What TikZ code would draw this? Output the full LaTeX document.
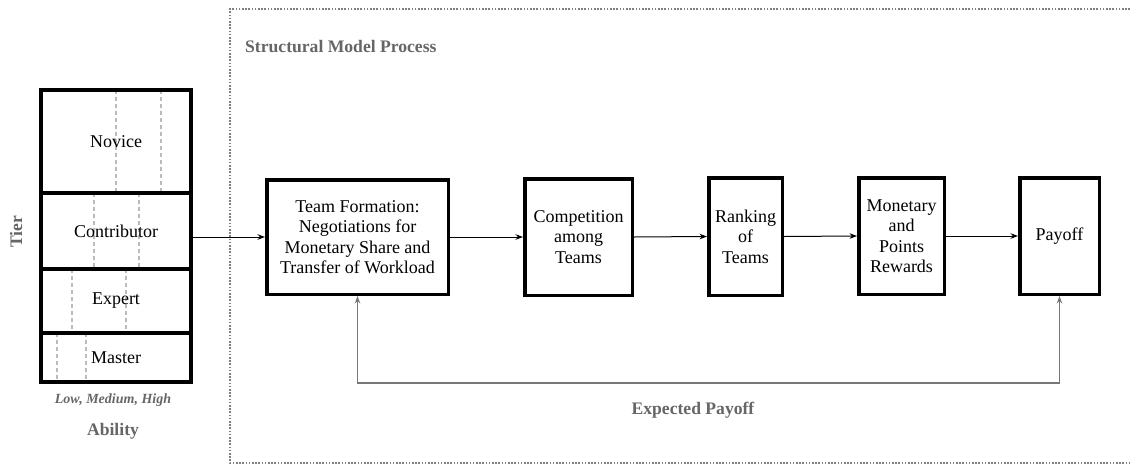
\documentclass[tikz,border=0pt]{standalone}
\usepackage{fontspec}
\setmainfont{Liberation Serif}
\newfontfamily\tnr{Liberation Serif}
\usetikzlibrary{arrows.meta,calc}
\definecolor{lbl}{HTML}{666666}
\definecolor{fbline}{HTML}{777777}
\definecolor{dash}{HTML}{BBBBBB}
\definecolor{frame}{HTML}{808080}
\tikzset{
  tier/.style={draw=black,line width=3.5pt,minimum width=150pt,inner sep=0pt,font=\tnr\fontsize{18}{20.5}\selectfont},
  proc/.style={draw=black,line width=3.5pt,inner sep=0pt,align=center,font=\tnr\fontsize{18}{20.5}\selectfont},
  abil/.style={draw=dash,line width=1.3pt,dash pattern=on 4pt off 3pt},
  arr/.style={line width=1pt,-{Stealth[length=7.5pt,width=5.5pt]}},
  fb/.style={draw=fbline,line width=1.4pt,{Stealth[length=7.5pt,width=5.5pt]}-{Stealth[length=7.5pt,width=5.5pt]}},
  lab/.style={text=lbl,font=\tnr\bfseries\fontsize{17.6}{20}\selectfont,inner sep=0pt},
}
\begin{document}
\begin{tikzpicture}[x=1pt,y=-1pt,font=\tnr]
\useasboundingbox (0,0) rectangle (1130,464);
% dotted frame
\draw[frame,line width=1.6pt,dash pattern=on 1.6pt off 1.6pt] (1130,9) -- (230,9) -- (230,463) -- (1130,463);
\node[lab,anchor=west] (smp) at (245,46) {Structural Model Process};
% ability dashed lines
\draw[abil] (116,90) -- (116,193) (161,90) -- (161,193);
\draw[abil] (94,193) -- (94,269) (139,193) -- (139,269);
\draw[abil] (72,269) -- (72,333) (126,269) -- (126,333);
\draw[abil] (57,333) -- (57,382) (86,333) -- (86,382);
% tiers
\node[tier,minimum height=103pt] (nov) at (116,141.5) {Novice};
\node[tier,minimum height=76pt] (con) at (116,231) {Contributor};
\node[tier,minimum height=64pt] (exp) at (116,301) {Expert};
\node[tier,minimum height=49pt] (mas) at (116,357.5) {Master};
\node[lab,rotate=90] (tier) at (16,232) {Tier};
\node[text=lbl,font=\tnr\bfseries\itshape\fontsize{14}{16}\selectfont,inner sep=0pt] (lmh) at (113,400) {Low, Medium, High};
\node[lab] (abl) at (113,431) {Ability};
% process
\node[proc,minimum width=181.5pt,minimum height=114.5pt] (tf) at (357.5,237) {Team Formation:\\Negotiations for\\Monetary Share and\\Transfer of Workload};
\node[proc,minimum width=107.5pt,minimum height=116.5pt] (comp) at (578.5,237) {Competition\\among\\Teams};
\node[proc,minimum width=73.5pt,minimum height=117.5pt] (rank) at (745.5,236.5) {Ranking\\of\\Teams};
\node[proc,minimum width=85.5pt,minimum height=116.5pt] (mon) at (901.5,236) {Monetary\\and\\Points\\Rewards};
\node[proc,minimum width=79.5pt,minimum height=116.5pt] (pay) at (1059.5,236) {Payoff};
% connectors
\draw[arr] (tf.west -| con.east) -- (tf.west);
\draw[arr] (tf.east) -- (comp.west);
\draw[arr] (comp.east) -- (rank.west);
\draw[arr] (rank.east) -- (mon.west);
\draw[arr] (mon.east) -- (pay.west);
\draw[fb] (pay.south) -- ++(0,87) -| (tf.south);
\node[lab] (ep) at (693,410) {Expected Payoff};
\end{tikzpicture}
\end{document}
